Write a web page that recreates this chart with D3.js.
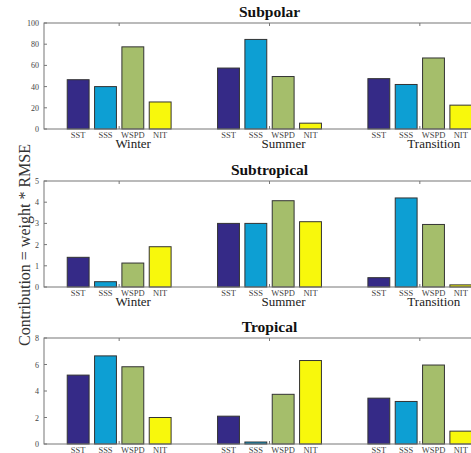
<!DOCTYPE html>
<html>
<head>
<meta charset="utf-8">
<script src="https://cdn.jsdelivr.net/npm/d3@7"></script>
<style>
  body { margin: 0; background: #fff; }
  svg { display: block; font-family: "Liberation Serif", "DejaVu Serif", serif; }
</style>
</head>
<body>
<div id="chart"></div>
<script>
// Data
const seasons = ['Winter', 'Summer', 'Transition'];
const variables = ['SST', 'SSS', 'WSPD', 'NIT'];
const colors = ['#352a87', '#0d9fd3', '#a5be6b', '#f8f80c'];

const regions = ['Subpolar', 'Subtropical', 'Tropical'];
const yMax = [100, 5, 8];
const yStep = [20, 1, 2];

// values[season][variable]
const subpolar = [
    [46.5, 40, 77.5, 25.5],
    [57.5, 84.5, 49.5, 5.5],
    [47.5, 42, 67, 22.5]
];
const subtropical = [
    [1.4, 0.25, 1.13, 1.9],
    [3.0, 3.0, 4.07, 3.08],
    [0.44, 4.2, 2.95, 0.1]
];
const tropical = [
    [5.2, 6.65, 5.83, 2.0],
    [2.1, 0.15, 3.75, 6.3],
    [3.46, 3.21, 5.96, 0.97]
];
const allValues = [subpolar, subtropical, tropical];

const width = 471, height = 453;
const svg = d3.select('#chart').append('svg')
    .attr('width', width)
    .attr('height', height);

// Layout of the three panels
const panelTop = [23, 181, 338];
const panelHeight = 106;
const left = 44, right = 495;

const x = d3.scaleLinear().domain([0.5, 3.5]).range([left, right]);
const groupWidth = 4 / 5.5;
const slot = groupWidth / 4;
const barW = slot * 0.8;

const axisColor = '#777';

regions.forEach((region, r) => {
    const top = panelTop[r];
    const bottom = top + panelHeight;
    const y = d3.scaleLinear().domain([0, yMax[r]]).range([bottom, top]);
    const g = svg.append('g');

    // bars
    allValues[r].forEach((vals, s) => {
        vals.forEach((v, j) => {
            const cx = (s + 1) + (j - 1.5) * slot;
            g.append('rect')
                .attr('x', x(cx - barW / 2))
                .attr('y', y(v))
                .attr('width', x(cx + barW / 2) - x(cx - barW / 2))
                .attr('height', y(0) - y(v))
                .attr('fill', colors[j])
                .attr('stroke', '#333')
                .attr('stroke-width', 1);

            g.append('text')
                .attr('x', x(cx))
                .attr('y', bottom + 9)
                .attr('text-anchor', 'middle')
                .attr('font-size', 8.5)
                .attr('fill', '#444')
                .text(variables[j]);
        });

        g.append('text')
            .attr('x', x(s + 1) + 14)
            .attr('y', bottom + 19)
            .attr('text-anchor', 'middle')
            .attr('font-size', 13)
            .attr('fill', '#222')
            .text(seasons[s]);
    });

    // axes box
    g.append('rect')
        .attr('x', left)
        .attr('y', top)
        .attr('width', right - left)
        .attr('height', panelHeight)
        .attr('fill', 'none')
        .attr('stroke', axisColor)
        .attr('stroke-width', 1);

    // y ticks
    const ticks = d3.range(0, yMax[r] + yStep[r] / 2, yStep[r]);
    ticks.forEach(t => {
        g.append('line')
            .attr('x1', left).attr('x2', left + 3)
            .attr('y1', y(t)).attr('y2', y(t))
            .attr('stroke', axisColor);
        g.append('text')
            .attr('x', left - 5)
            .attr('y', y(t) + 3)
            .attr('text-anchor', 'end')
            .attr('font-size', 8)
            .attr('fill', '#444')
            .text(t);
    });

    // x ticks at group centres
    [1, 2, 3].forEach(c => {
        g.append('line')
            .attr('x1', x(c)).attr('x2', x(c))
            .attr('y1', top).attr('y2', top + 3)
            .attr('stroke', axisColor);
        g.append('line')
            .attr('x1', x(c)).attr('x2', x(c))
            .attr('y1', bottom).attr('y2', bottom - 3)
            .attr('stroke', axisColor);
    });

    // title
    g.append('text')
        .attr('x', (left + right) / 2)
        .attr('y', top - 6.5)
        .attr('text-anchor', 'middle')
        .attr('font-size', 15.5)
        .attr('font-weight', 'bold')
        .attr('fill', '#111')
        .text(region);
});

// y label
svg.append('text')
    .attr('transform', 'translate(30,245) rotate(-90)')
    .attr('text-anchor', 'middle')
    .attr('font-size', 16)
    .attr('fill', '#333')
    .text('Contribution = weight * RMSE');
</script>
</body>
</html>
